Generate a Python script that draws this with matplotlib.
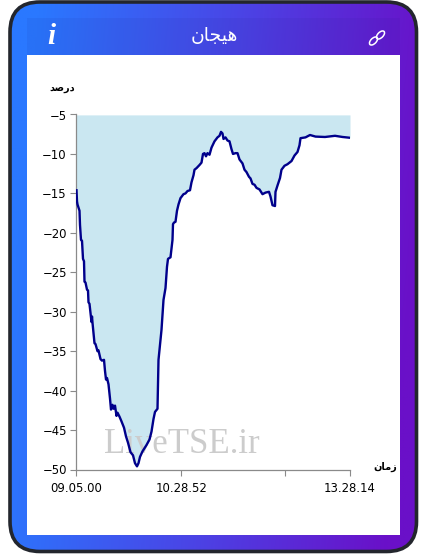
import numpy as np
import matplotlib
matplotlib.use('Agg')
import matplotlib.pyplot as plt
from matplotlib.patches import FancyBboxPatch, Rectangle, Ellipse
from matplotlib.colors import LinearSegmentedColormap

# position along the time axis and percent value
steps = [0, 0.5, 1, 3, 3.5, 4.5, 5.5, 6.5, 7.5, 8, 9, 10.5, 11.5, 12, 13, 14, 15, 15.5, 16, 18,
         19, 21, 22, 24, 25.5, 27.5, 28.5, 29.5, 30.5, 32, 33.5, 34.5, 36, 37, 38.5, 40, 41, 43, 45, 47.5,
         49.5, 51.5, 54, 56.5, 58.5, 60.5, 62, 63.5, 66, 70, 73, 75, 77, 78.5, 81,
         82, 85, 87, 89, 90.5, 91.5, 94, 95, 96, 96.5, 97.5, 99, 100.5, 102, 104, 107, 109, 111, 113.5,
         115, 117, 118, 120, 123, 125, 126.5, 128, 129.5, 131, 133, 135, 138, 141, 143, 144.5, 146, 147,
         149, 151, 153, 155, 156.5, 159, 161, 163, 166, 168, 170, 172.5, 174, 176, 178, 180, 183, 186,
         189, 192.5, 194, 196, 198.5, 199, 201, 203.5, 205, 208, 211, 215, 218, 221, 223, 224, 229,
         233.5, 239, 248.5, 258.5, 266, 273.5]
percent = [-14.6, -16.0, -16.4, -17.2, -19.0, -20.9, -21.0, -23.3, -23.6, -26.2, -26.3, -27.2, -27.3, -28.8, -29.0, -30.2, -31.3, -30.6, -31.4, -34.0,
           -34.1, -35.0, -34.9, -36.0, -36.2, -36.1, -37.5, -38.6, -38.4, -39.2, -41.0, -42.4, -41.8, -42.3, -41.9, -43.2, -42.8, -43.3, -43.9, -44.7,
           -45.8, -46.6, -47.8, -48.2, -49.2, -49.6, -49.2, -48.4, -47.7, -46.9, -46.2, -45.2, -43.6, -42.7, -42.3,
           -36.1, -32.3, -28.5, -27.0, -24.3, -23.3, -23.1, -22.0, -20.9, -18.9, -18.7, -18.6, -17.2, -16.4, -15.6, -15.1, -15.0, -14.7, -14.6,
           -13.6, -12.7, -12.0, -11.8, -11.4, -11.1, -10.0, -9.9, -10.3, -9.9, -10.1, -9.2, -8.4, -7.9, -7.7, -7.2, -7.4, -8.1,
           -7.9, -8.3, -8.4, -9.4, -10.0, -9.9, -9.9, -10.7, -11.2, -12.0, -12.3, -12.9, -13.1, -13.8, -13.9, -14.3, -14.5, -15.1,
           -14.9, -14.8, -15.4, -16.5, -16.6, -14.8, -14.0, -13.05, -12.0, -11.5, -11.3, -10.9, -10.2, -9.75, -8.9, -8.0, -7.9,
           -7.6, -7.8, -7.85, -7.7, -7.85, -7.95]

y_ticks = [-5, -10, -15, -20, -25, -30, -35, -40, -45, -50]
x_ticks = [0, 105, 208.5, 273.5]
x_labels = ['09.05.00', '10.28.52', '', '13.28.14']

# matplotlib does not shape arabic, so presentation forms in visual order
title_txt = '\uFEE5\uFE8E\uFEA0\uFBFF\uFEEB'   # هیجان
ylabel_txt = '\uFEAA\uFEBB\uFEAD\uFEA9'        # درصد
xlabel_txt = '\uFEE5\uFE8E\uFEE3\uFEAF'        # زمان

fig = plt.figure(figsize=(4.27, 5.54), dpi=100)
fig.patch.set_facecolor('white')

# card in pixel coords
bg = fig.add_axes([0, 0, 1, 1])
bg.set_axis_off()
card = FancyBboxPatch((10, 2), 406.5, 549.5, boxstyle='round,pad=0,rounding_size=30',
                      fc='none', ec='#23262d', lw=2.6, zorder=3)
bg.add_patch(card)
grad = LinearSegmentedColormap.from_list('g', ['#2a78ff', '#4a45e6', '#6a10c8'])
xx, yy = np.meshgrid(np.linspace(0, 1, 200), np.linspace(0, 1, 200))
im = bg.imshow(xx + 0.12 * (yy - 0.5), cmap=grad, extent=[0, 427, 554, 0], aspect='auto',
               vmin=0.03, vmax=0.97, zorder=1)
im.set_clip_path(card)
bg.set_xlim(0, 427)
bg.set_ylim(554, 0)
bg.add_patch(Rectangle((27, 18), 373, 37, fc='#1a1a80', alpha=0.07, lw=0, zorder=1.5))
bg.add_patch(Rectangle((27, 55), 373, 480, fc='white', lw=0, zorder=2))

bg.text(214.5, 35, title_txt, color='white', fontsize=13.5, ha='center', va='center',
        family='DejaVu Sans', zorder=4)
bg.text(51, 37, 'i', color='white', fontsize=21, ha='center', va='center',
        family='Liberation Serif', style='italic', weight='bold', zorder=4)
# link icon
bg.add_patch(Ellipse((373.5, 41), 10, 5.5, angle=-45, fc='none', ec='white', lw=1.1, zorder=4))
bg.add_patch(Ellipse((380.5, 35), 10, 5.5, angle=-45, fc='none', ec='white', lw=1.1, zorder=4))

bg.text(62, 88, ylabel_txt, color='black', fontsize=7, weight='bold', ha='center', va='center', zorder=4)
bg.text(385, 467, xlabel_txt, color='black', fontsize=7, weight='bold', ha='center', va='center', zorder=4)

# chart
ax = fig.add_axes([76.5 / 427, 1 - 469.5 / 554, 273.5 / 427, 355 / 554])
ax.patch.set_alpha(0)
ax.set_xlim(0, 273.5)
ax.set_ylim(-50, -5)
ax.fill_between(steps, percent, -5.05, color='#cae7f1', lw=0, zorder=1)
# watermark sits over the fill, under the line
ax.text(182, 453, 'LiveTSE.ir', family='Liberation Serif', fontsize=25, color='#cccccc',
        ha='center', va='baseline', zorder=2, transform=bg.transData)
ax.plot(steps, percent, color='#00008b', lw=1.7, zorder=3, solid_joinstyle='round')

for s in ['top', 'right']:
    ax.spines[s].set_visible(False)
for s in ['left', 'bottom']:
    ax.spines[s].set_color('#8a8a8a')
    ax.spines[s].set_linewidth(0.9)
ax.set_yticks(y_ticks)
ax.set_xticks(x_ticks)
ax.set_xticklabels(x_labels)
ax.tick_params(axis='both', length=4, width=0.8, color='#8a8a8a', labelsize=8.4, labelcolor='black')
ax.tick_params(axis='y', pad=3)
ax.tick_params(axis='x', pad=5)

fig.savefig('out.png', dpi=100)
